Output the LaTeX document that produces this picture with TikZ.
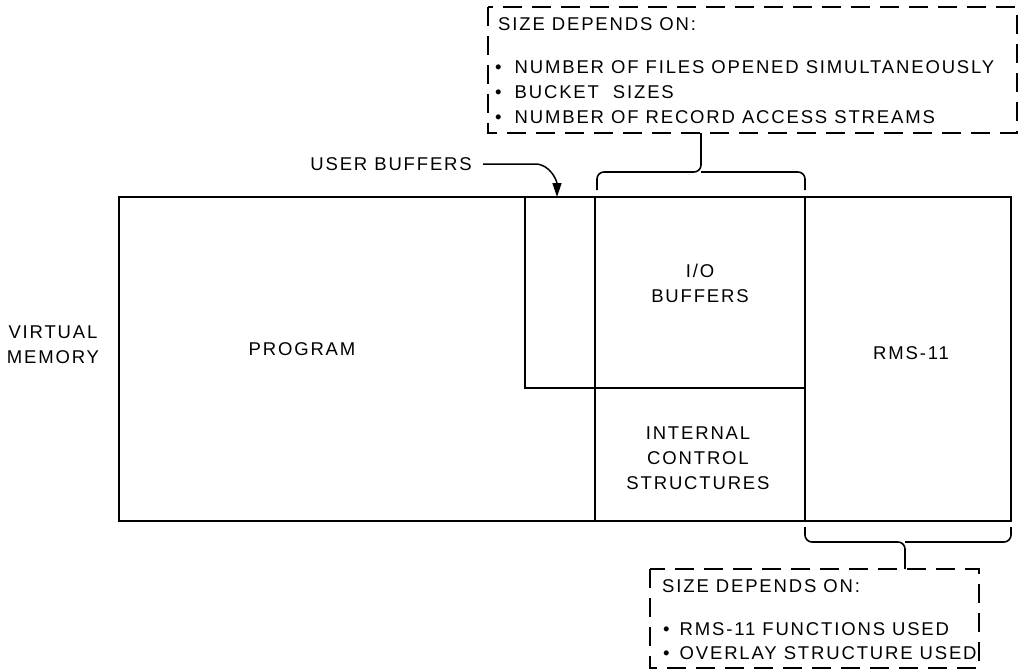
\documentclass[tikz,border=0pt]{standalone}
\usepackage{fontspec}
\setmainfont{Liberation Sans}
\newfontfamily\lbfont{Liberation Sans}[LetterSpace=10]
\usetikzlibrary{arrows.meta}
\begin{document}
\begin{tikzpicture}[x=1pt,y=-1pt,
  lbl/.style={font=\lbfont\fontsize{18.5}{25}\selectfont, inner sep=0pt, align=center},
  lbll/.style={font=\lbfont\fontsize{18.5}{25}\selectfont, inner sep=0pt, align=left, anchor=west},
  solidline/.style={line width=1.9pt},
  dashbox/.style={line width=1.4pt, dash pattern=on 19pt off 10pt},
  bracel/.style={line width=1.6pt, rounded corners=7pt}]
\useasboundingbox (0,0) rectangle (1021,670);
% main blocks
\draw[solidline] (119,197) rectangle (1011,521);
\draw[solidline] (525,197) -- (525,388) -- (805,388);
\draw[solidline] (595,197) -- (595,521);
\draw[solidline] (805,197) -- (805,521);
% labels
\node[lbl] (vm) at (53,345) {VIRTUAL\\MEMORY};
\node[lbl] (prog) at (302,349) {PROGRAM};
\node[lbl] (io) at (700,283) {I/O\\BUFFERS};
\node[lbl] (ics) at (698,458) {INTERNAL\\CONTROL\\STRUCTURES};
\node[lbl] (rms) at (911,353) {RMS-11};
% user buffers
\node[lbl, anchor=east] (ub) at (472,164) {USER BUFFERS};
\coordinate (ubtip) at (557,197);
\draw[line width=1.5pt, -{Triangle[length=14pt,width=9pt]}] ([xshift=11pt]ub.east) -- (535,164) to[out=0,in=90] (ubtip);
% top dashed box
\draw[dashbox] (488,7) rectangle (1017,133);
\node[lbll] (t0) at (498,24) {SIZE DEPENDS ON:};
\node[lbll] (t1) at (495,67) {\textbullet\hspace{13pt}NUMBER OF FILES OPENED SIMULTANEOUSLY};
\node[lbll] (t2) at (495,92) {\textbullet\hspace{13pt}BUCKET\ \ SIZES};
\node[lbll] (t3) at (495,117) {\textbullet\hspace{13pt}NUMBER OF RECORD ACCESS STREAMS};
\coordinate (tb) at (701,133);
\draw[bracel] (597,190) -- (597,172) -- (701,172) -- (tb);
\draw[bracel] (805,190) -- (805,172) -- (701,172);
% bottom dashed box
\draw[dashbox] (650,569) rectangle (979,668);
\node[lbll] (b0) at (662,586) {SIZE DEPENDS ON:};
\node[lbll] (b1) at (663,629) {\textbullet\hspace{10pt}RMS-11 FUNCTIONS USED};
\node[lbll] (b2) at (663,653) {\textbullet\hspace{10pt}OVERLAY STRUCTURE USED};
\coordinate (bb) at (905,569);
\draw[bracel] (805,527) -- (805,542) -- (905,542) -- (bb);
\draw[bracel] (1011,527) -- (1011,542) -- (905,542);
\end{tikzpicture}
\end{document}
